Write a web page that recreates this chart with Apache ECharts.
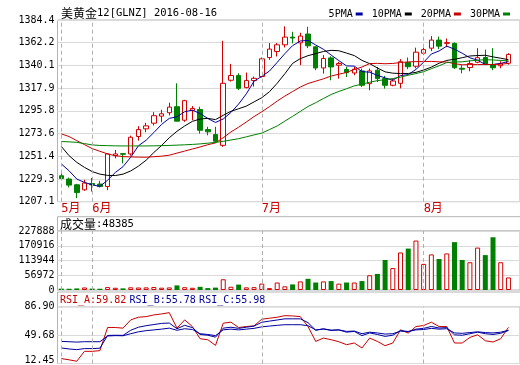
<!DOCTYPE html>
<html><head><meta charset="utf-8">
<script src="https://cdn.jsdelivr.net/npm/echarts@6/dist/echarts.min.js"></script>
<style>html,body{margin:0;padding:0;background:#fff}#c{width:520px;height:365px}</style>
</head><body><div id="c"></div>
<script>
const dates = ['2016-05-26','2016-05-27','2016-05-30','2016-05-31',
'2016-06-01','2016-06-02','2016-06-03','2016-06-06','2016-06-07','2016-06-08','2016-06-09','2016-06-10','2016-06-13','2016-06-14','2016-06-15','2016-06-16','2016-06-17','2016-06-20','2016-06-21','2016-06-22','2016-06-23','2016-06-24','2016-06-27','2016-06-28','2016-06-29','2016-06-30',
'2016-07-01','2016-07-04','2016-07-05','2016-07-06','2016-07-07','2016-07-08','2016-07-11','2016-07-12','2016-07-13','2016-07-14','2016-07-15','2016-07-18','2016-07-19','2016-07-20','2016-07-21','2016-07-22','2016-07-25','2016-07-26','2016-07-27','2016-07-28','2016-07-29',
'2016-08-01','2016-08-02','2016-08-03','2016-08-04','2016-08-05','2016-08-08','2016-08-09','2016-08-10','2016-08-11','2016-08-12','2016-08-15','2016-08-16'];
const openP = [1232.4,1229.2,1223.6,1218.7,1224.9,1224.3,1221.9,1252.0,1254.0,1253.7,1270.7,1278.2,1283.7,1290.6,1293.9,1299.8,1286.6,1296.2,1297.1,1277.5,1272.6,1262.1,1325.6,1330.2,1318.4,1325.3,1329.2,1347.8,1353.7,1360.2,1367.7,1362.1,1370.7,1358.2,1337.6,1347.4,1340.3,1336.1,1332.7,1334.7,1322.3,1335.4,1327.2,1320.7,1322.6,1342.9,1339.3,1352.0,1356.9,1364.8,1361.6,1361.6,1337.3,1338.0,1343.2,1347.8,1340.8,1339.8,1342.2];
const closeP = [1229.8,1223.3,1216.0,1225.3,1223.6,1221.9,1253.7,1253.7,1253.4,1270.0,1277.5,1281.1,1291.0,1292.9,1299.4,1285.7,1305.7,1298.1,1276.8,1275.3,1266.1,1322.6,1330.2,1317.7,1325.3,1327.5,1346.5,1356.0,1360.2,1367.7,1366.8,1368.7,1359.2,1337.6,1346.8,1338.6,1341.9,1333.1,1336.4,1320.7,1334.7,1327.2,1320.7,1324.9,1343.7,1338.8,1353.0,1355.5,1364.8,1358.9,1362.3,1337.8,1336.4,1341.9,1347.6,1341.3,1337.8,1341.8,1350.8];
const lowP = [1228.0,1221.0,1210.6,1217.7,1217.0,1221.0,1218.4,1249.4,1244.5,1252.0,1266.7,1274.9,1281.5,1284.7,1291.3,1285.4,1285.0,1286.6,1273.6,1271.9,1264.8,1260.6,1324.3,1316.1,1317.7,1319.4,1328.2,1345.5,1348.8,1357.6,1361.6,1340.3,1357.0,1335.4,1332.1,1325.6,1327.2,1328.8,1330.5,1319.0,1315.8,1323.9,1317.4,1319.7,1317.7,1336.4,1337.3,1350.1,1354.0,1356.0,1357.9,1336.6,1332.4,1334.4,1342.2,1340.3,1335.4,1337.3,1340.8];
const highP = [1236.0,1230.6,1224.5,1228.5,1230.2,1227.5,1254.5,1257.6,1254.5,1271.5,1280.8,1284.1,1294.5,1296.8,1303.7,1322.6,1306.5,1300.4,1299.8,1280.2,1280.2,1364.1,1341.6,1332.4,1333.1,1329.2,1347.8,1361.9,1361.9,1378.2,1372.9,1372.0,1377.8,1359.0,1350.1,1349.0,1343.5,1338.6,1338.6,1337.0,1337.0,1338.6,1329.9,1327.2,1346.2,1347.8,1357.4,1357.4,1368.7,1368.2,1366.3,1362.5,1340.3,1345.2,1356.9,1355.5,1356.9,1344.2,1352.0];
const ma5 = [1243.9,1237.3,1229.2,1225.9,1223.6,1222.0,1228.1,1235.6,1241.3,1250.5,1261.7,1267.1,1274.6,1282.5,1288.4,1290.0,1294.9,1296.4,1293.1,1288.3,1284.4,1287.8,1294.2,1302.4,1312.4,1324.7,1329.4,1334.6,1343.1,1351.6,1359.4,1363.9,1364.5,1360.0,1355.8,1350.2,1344.8,1339.6,1339.4,1334.1,1333.4,1330.4,1327.9,1325.6,1330.2,1331.1,1336.2,1343.2,1351.2,1354.2,1358.9,1355.9,1352.0,1347.5,1345.2,1341.0,1341.0,1342.1,1343.9];
const ma10 = [1261.0,1252.0,1245.5,1240.6,1236.5,1234.0,1232.8,1232.6,1234.0,1237.1,1241.8,1247.6,1255.1,1261.9,1269.5,1275.8,1281.0,1285.5,1287.8,1288.4,1287.2,1291.4,1295.3,1297.8,1300.4,1304.5,1308.6,1314.4,1322.7,1332.0,1342.1,1346.7,1349.6,1351.6,1353.7,1354.8,1354.4,1352.1,1349.7,1345.0,1341.8,1337.6,1333.8,1332.5,1332.2,1332.2,1333.3,1335.6,1338.4,1342.2,1345.0,1346.0,1347.6,1349.3,1349.7,1350.0,1348.4,1347.1,1345.7];
const ma20 = [1273.3,1270.7,1266.7,1262.8,1258.9,1256.3,1253.7,1252.0,1251.1,1250.8,1250.6,1250.5,1251.0,1251.5,1252.5,1254.5,1256.5,1258.5,1260.5,1262.7,1264.5,1269.5,1275.2,1279.8,1284.9,1290.2,1294.8,1299.9,1305.3,1310.2,1314.6,1319.0,1322.4,1324.7,1327.0,1329.7,1331.5,1333.2,1336.2,1338.5,1341.9,1342.1,1341.7,1342.0,1342.9,1343.5,1343.8,1343.8,1344.0,1343.6,1343.4,1341.8,1340.7,1340.9,1340.9,1341.1,1340.9,1341.3,1342.0];
const ma30 = [1265.8,1265.5,1265.0,1263.8,1262.5,1262.0,1261.8,1261.6,1261.5,1261.5,1261.5,1261.5,1261.6,1261.8,1262.0,1262.3,1262.6,1263.0,1263.5,1264.2,1265.0,1266.0,1267.3,1268.6,1270.4,1272.3,1274.0,1277.5,1281.0,1285.8,1290.4,1295.2,1300.0,1303.7,1307.8,1311.7,1314.7,1317.3,1320.1,1321.8,1323.7,1325.2,1326.2,1327.3,1328.7,1330.5,1332.1,1334.0,1336.9,1339.7,1342.9,1343.4,1343.6,1344.5,1345.2,1345.7,1345.4,1344.9,1344.6];
const volume = [5200,4800,6100,9800,5400,4900,11200,8600,6300,10400,9700,10100,11500,8900,9900,17800,10800,8600,12300,7400,9200,41500,12600,20800,10200,11000,24600,7300,28900,14200,21600,33200,43200,28900,33200,34500,24600,28900,28900,34500,57000,62100,116000,84700,145000,160000,191000,100900,137400,119700,141200,184900,116000,107300,163800,134800,203700,107300,48385];
const rsiA = [18.9,17.3,15.4,28.4,28.4,29.3,59.6,59.6,58.8,69.6,73.1,73.9,76.1,77.4,79.1,58.8,69.6,60.9,44.9,43.6,36.2,65.3,66.6,59.6,60.9,61.8,70.5,71.8,73.1,75.2,74.8,73.9,60.9,41.4,45.8,43.6,41.0,37.1,39.3,32.8,45.8,41.4,35.8,39.3,56.6,52.3,60.9,62.2,66.6,60.9,60.9,39.3,39.3,46.6,50.1,42.3,40.6,44.9,59.82];
const rsiB = [32.8,31.5,30.6,32.0,32.0,32.5,49.2,49.5,49.3,56.0,60.0,62.0,63.5,65.0,65.5,58.0,62.5,59.5,50.5,49.5,47.0,58.8,60.0,58.5,60.0,61.5,66.5,68.0,69.5,71.0,71.0,71.0,66.0,56.0,58.0,56.0,56.5,53.5,54.5,49.0,52.5,50.5,48.0,49.5,55.5,54.0,57.5,58.5,61.0,59.0,59.5,50.0,49.5,51.5,53.5,51.5,50.5,52.0,55.78];
const rsiC = [41.4,41.0,40.5,41.0,41.0,41.0,48.5,49.0,48.8,51.5,54.0,55.5,56.5,57.5,58.8,56.0,58.0,57.0,51.5,50.5,49.0,56.6,57.5,56.5,57.5,58.5,60.5,61.5,62.5,63.3,63.3,63.3,62.0,56.5,57.5,56.0,56.5,54.5,55.0,51.5,53.5,52.5,51.0,51.5,55.0,54.5,56.5,57.0,58.5,57.5,58.0,52.5,52.0,53.0,54.0,53.0,52.5,53.5,55.98];
const priceTicks = ['1207.1','1229.3','1251.4','1273.6','1295.8','1317.9','1340.1','1362.2','1384.4'];
const volTicks = ['0','56972','113944','170916','227888'];
const rsiTicks = ['12.45','49.68','86.90'];

const RED = '#d40000', LRED = '#c80000', GREEN = '#008000', NAVY = '#0000a0';
const GRIDC = '#dadada', BORDER = '#b4b4b4';
const MONO = "'DejaVu Sans Mono','Noto Sans CJK SC',monospace";

function axisFrom(ticks){
  const mn = parseFloat(ticks[0]), mx = parseFloat(ticks[ticks.length-1]);
  const iv = (mx - mn) / (ticks.length - 1);
  return {min: mn, max: mx, interval: iv, fmt: v => { const k = Math.round((v - mn) / iv); return ticks[k] !== undefined ? ticks[k] : ''; }};
}
const pa = axisFrom(priceTicks), va = axisFrom(volTicks), ra = axisFrom(rsiTicks);

const monthIdx = dates.map((d,i)=> (i===0 || d.slice(5,7)!==dates[i-1].slice(5,7)) ? i : -1).filter(i=>i>=0);
const monthLines = {
  silent: true, symbol: ['none','none'], animation: false,
  label: {show: false},
  lineStyle: {type: [4,3], color: '#b0b0b0', width: 1},
  emphasis: {disabled: true},
  data: monthIdx.map(i => ({xAxis: dates[i]}))
};

const candleData = dates.map((d,i)=>[openP[i], closeP[i], lowP[i], highP[i]]);
const volData = volume.map((v,i)=> closeP[i] >= openP[i]
  ? {value: v, itemStyle: {color: '#fff', borderColor: RED, borderWidth: 1}}
  : {value: v, itemStyle: {color: GREEN, borderColor: GREEN, borderWidth: 0}});

const L = 57.5, W = 464;
const grids = [
  {left: L, top: 20, width: W, height: 181.7},
  {left: L, top: 231, width: W, height: 59},
  {left: L, top: 306.7, width: W, height: 57.3}
];
grids.forEach(g => { g.show = true; g.borderColor = BORDER; g.borderWidth = 1; g.backgroundColor = 'transparent'; });

function xAx(gi, showLabel){
  return {
    type: 'category', gridIndex: gi, data: dates, max: dates.length, boundaryGap: true,
    axisLine: {show: false}, axisTick: {show: false}, splitLine: {show: false},
    axisLabel: showLabel ? {
      show: true, color: LRED, fontSize: 12, fontFamily: MONO, margin: 1, align: 'left',
      interval: (i) => monthIdx.indexOf(i) >= 0,
      formatter: (v) => v ? (parseInt(v.slice(5,7),10) + '月') : ''
    } : {show: false}
  };
}
function yAx(gi, a, extra){
  return Object.assign({
    type: 'value', gridIndex: gi, min: a.min, max: a.max, interval: a.interval, scale: true,
    axisLine: {show: false}, axisTick: {show: false},
    splitLine: {show: true, lineStyle: {color: GRIDC, width: 1}},
    axisLabel: {color: '#000', fontSize: 10, fontFamily: MONO, margin: 3, formatter: a.fmt}
  }, extra || {});
}

function lineS(name, data, color, xi, yi){
  return {name, type: 'line', data, xAxisIndex: xi, yAxisIndex: yi, showSymbol: false, symbol: 'none',
    smooth: false, itemStyle: {color}, lineStyle: {color, width: 1}, emphasis: {disabled: true}, z: 3};
}

const chart = echarts.init(document.getElementById('c'), null, {renderer: 'canvas'});
chart.setOption({
  animation: false,
  backgroundColor: '#fff',
  title: {
    text: '{c|美黄金}{a|12[GLNZ] 2016-08-16}', left: 61, top: 7, padding: 0,
    textStyle: {fontWeight: 'normal', rich: {
      c: {fontFamily: 'Noto Sans CJK SC', fontSize: 12, color: '#000', fontWeight: 'normal'},
      a: {fontFamily: MONO, fontSize: 10.5, color: '#000', fontWeight: 'normal'}
    }}
  },
  legend: {
    data: ['5PMA','10PMA','20PMA','30PMA'], right: 10, top: 9, padding: 0,
    align: 'right', icon: 'rect', itemWidth: 7, itemHeight: 3, itemGap: 9,
    textStyle: {fontFamily: MONO, fontSize: 10, color: '#000', padding: [0,-2,0,0]},
    selectedMode: false
  },
  grid: grids,
  xAxis: [xAx(0, true), xAx(1, false), xAx(2, false)],
  yAxis: [
    yAx(0, pa),
    yAx(1, va),
    yAx(2, ra, {axisLabel: {color: '#000', fontSize: 10, fontFamily: MONO, margin: 3,
      formatter: v => { const s = ra.fmt(v); return s === rsiTicks[0] ? '{low|' + s + '}' : s; },
      rich: {low: {fontSize: 10, fontFamily: MONO, color: '#000', padding: [0,0,7,0]}}}})
  ],
  graphic: [
    {type: 'rect', shape: {x: L, y: 216.7, width: W, height: 14.3}, style: {fill: 'none', stroke: BORDER, lineWidth: 1}, silent: true},
    {type: 'rect', shape: {x: L, y: 292, width: W, height: 14.7}, style: {fill: 'none', stroke: BORDER, lineWidth: 1}, silent: true},
    {type: 'text', left: 60, top: 218, silent: true,
      style: {text: '{c|成交量}{a|:' + volume[volume.length-1] + '}',
        rich: {c: {fontFamily: 'Noto Sans CJK SC', fontSize: 12, fill: '#000'}, a: {fontFamily: MONO, fontSize: 10.5, fill: '#000'}}}},
    {type: 'text', left: 60, top: 294, silent: true,
      style: {text: '{r|RSI_A:' + rsiA[rsiA.length-1].toFixed(2) + '} {b|RSI_B:' + rsiB[rsiB.length-1].toFixed(2) + '} {b|RSI_C:' + rsiC[rsiC.length-1].toFixed(2) + '}',
        rich: {r: {fontFamily: MONO, fontSize: 10, fill: LRED}, b: {fontFamily: MONO, fontSize: 10, fill: NAVY}}}}
  ],
  series: [
    {name: 'K', type: 'candlestick', data: candleData, xAxisIndex: 0, yAxisIndex: 0, barWidth: 5,
      itemStyle: {color: '#fff', color0: GREEN, borderColor: RED, borderColor0: GREEN, borderWidth: 1},
      emphasis: {disabled: true}, markLine: monthLines, z: 2},
    lineS('5PMA', ma5, NAVY, 0, 0),
    lineS('10PMA', ma10, '#000', 0, 0),
    lineS('20PMA', ma20, LRED, 0, 0),
    lineS('30PMA', ma30, GREEN, 0, 0),
    {name: 'VOL', type: 'bar', data: volData, xAxisIndex: 1, yAxisIndex: 1, barWidth: 5,
      emphasis: {disabled: true}, markLine: monthLines},
    Object.assign(lineS('RSI_A', rsiA, LRED, 2, 2), {markLine: monthLines}),
    lineS('RSI_B', rsiB, NAVY, 2, 2),
    lineS('RSI_C', rsiC, NAVY, 2, 2)
  ]
});
</script></body></html>
